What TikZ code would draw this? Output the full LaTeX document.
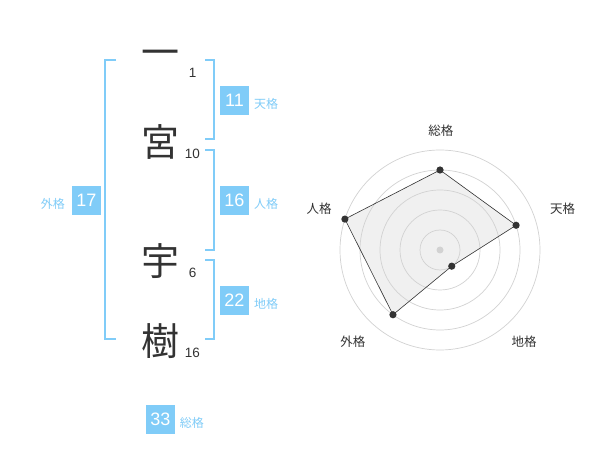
\documentclass[tikz,border=0pt]{standalone}
\usepackage{fontspec}
\setmainfont{Liberation Sans}
\newfontfamily\jpfont{Noto Sans CJK JP}
\definecolor{kakublue}{HTML}{80CCF8}
\definecolor{inkgray}{HTML}{333333}
\definecolor{ringgray}{HTML}{D2D2D2}
\definecolor{areagray}{HTML}{F0F0F0}

\begin{document}
\begin{tikzpicture}[x=1pt,y=-1pt,
  kanji/.style={font=\jpfont\fontsize{38}{38}\selectfont,text=inkgray,inner sep=0pt},
  strokes/.style={font=\fontsize{13.5}{13.5}\selectfont,text=inkgray,inner sep=0pt},
  kakubox/.style={fill=kakublue,text=white,minimum width=29pt,minimum height=29pt,inner sep=0pt,font=\fontsize{18}{18}\selectfont},
  kakuname/.style={text=kakublue,font=\jpfont\fontsize{12}{12}\selectfont,inner sep=0pt},
  bracket/.style={draw=kakublue,line width=2pt},
  axislabel/.style={text=inkgray,font=\jpfont\fontsize{12.5}{12.5}\selectfont,inner sep=0pt},
  dot/.style={fill=inkgray}]

\useasboundingbox[fill=white] (0,0) rectangle (600,470);

% name, one character per line
\node[kanji] (c1) at (160,58) {一};
\node[kanji] (c2) at (160,142) {宮};
\node[kanji] (c3) at (160,261) {宇};
\node[kanji] (c4) at (160,341) {樹};

% strokes
\node[strokes] (s1) at (192.7,73) {1};
\node[strokes] (s2) at (192.3,153.5) {10};
\node[strokes] (s3) at (192.7,273) {6};
\node[strokes] (s4) at (192.3,353) {16};

% brackets
\draw[bracket] (116,60) -- (105,60) -- (105,339) -- (116,339);
\draw[bracket] (205,60) -- (214,60) -- (214,139) -- (205,139);
\draw[bracket] (205,150) -- (214,150) -- (214,250) -- (205,250);
\draw[bracket] (205,260) -- (214,260) -- (214,339) -- (205,339);

% scores
\node[kakubox] (ten) at (234.5,100.3) {11};
\node[kakuname] (tenl) at (266,104) {天格};
\node[kakubox] (jin) at (234.5,200.3) {16};
\node[kakuname] (jinl) at (266,204) {人格};
\node[kakubox] (chi) at (234.5,300.3) {22};
\node[kakuname] (chil) at (266,304) {地格};
\node[kakubox] (gai) at (86.5,200.3) {17};
\node[kakuname] (gail) at (52.8,204) {外格};
\node[kakubox] (sou) at (160.5,419.2) {33};
\node[kakuname] (soul) at (191.8,422.7) {総格};

% radar
\coordinate (c) at (440,250);
\path (c) ++(-90:80) coordinate (rsou)
      (c) ++(-18:80) coordinate (rten)
      (c) ++(54:20) coordinate (rchi)
      (c) ++(126:80) coordinate (rgai)
      (c) ++(-162:100) coordinate (rjin);
\fill[areagray] (rsou) -- (rten) -- (rchi) -- (rgai) -- (rjin) -- cycle;
\foreach \r in {20,40,...,100}
{
\draw[ringgray,line width=0.7pt] (c) circle (\r pt);
}
\draw[inkgray,line width=0.6pt]
  (rsou) -- (rten) -- (rchi) -- (rgai) -- (rjin) -- cycle;
\fill[ringgray] (c) circle (3.5pt);
\foreach \p in {rsou,rten,rchi,rgai,rjin}
{
\fill[dot] (\p) circle (3.6pt);
}

\node[axislabel] (asou) at (440.8,130.7) {総格};
\node[axislabel] (aten) at (562.5,208.7) {天格};
\node[axislabel] (ajin) at (319.2,208.7) {人格};
\node[axislabel] (achi) at (524.2,341.7) {地格};
\node[axislabel] (agai) at (352.8,341.7) {外格};

\end{tikzpicture}
\end{document}
